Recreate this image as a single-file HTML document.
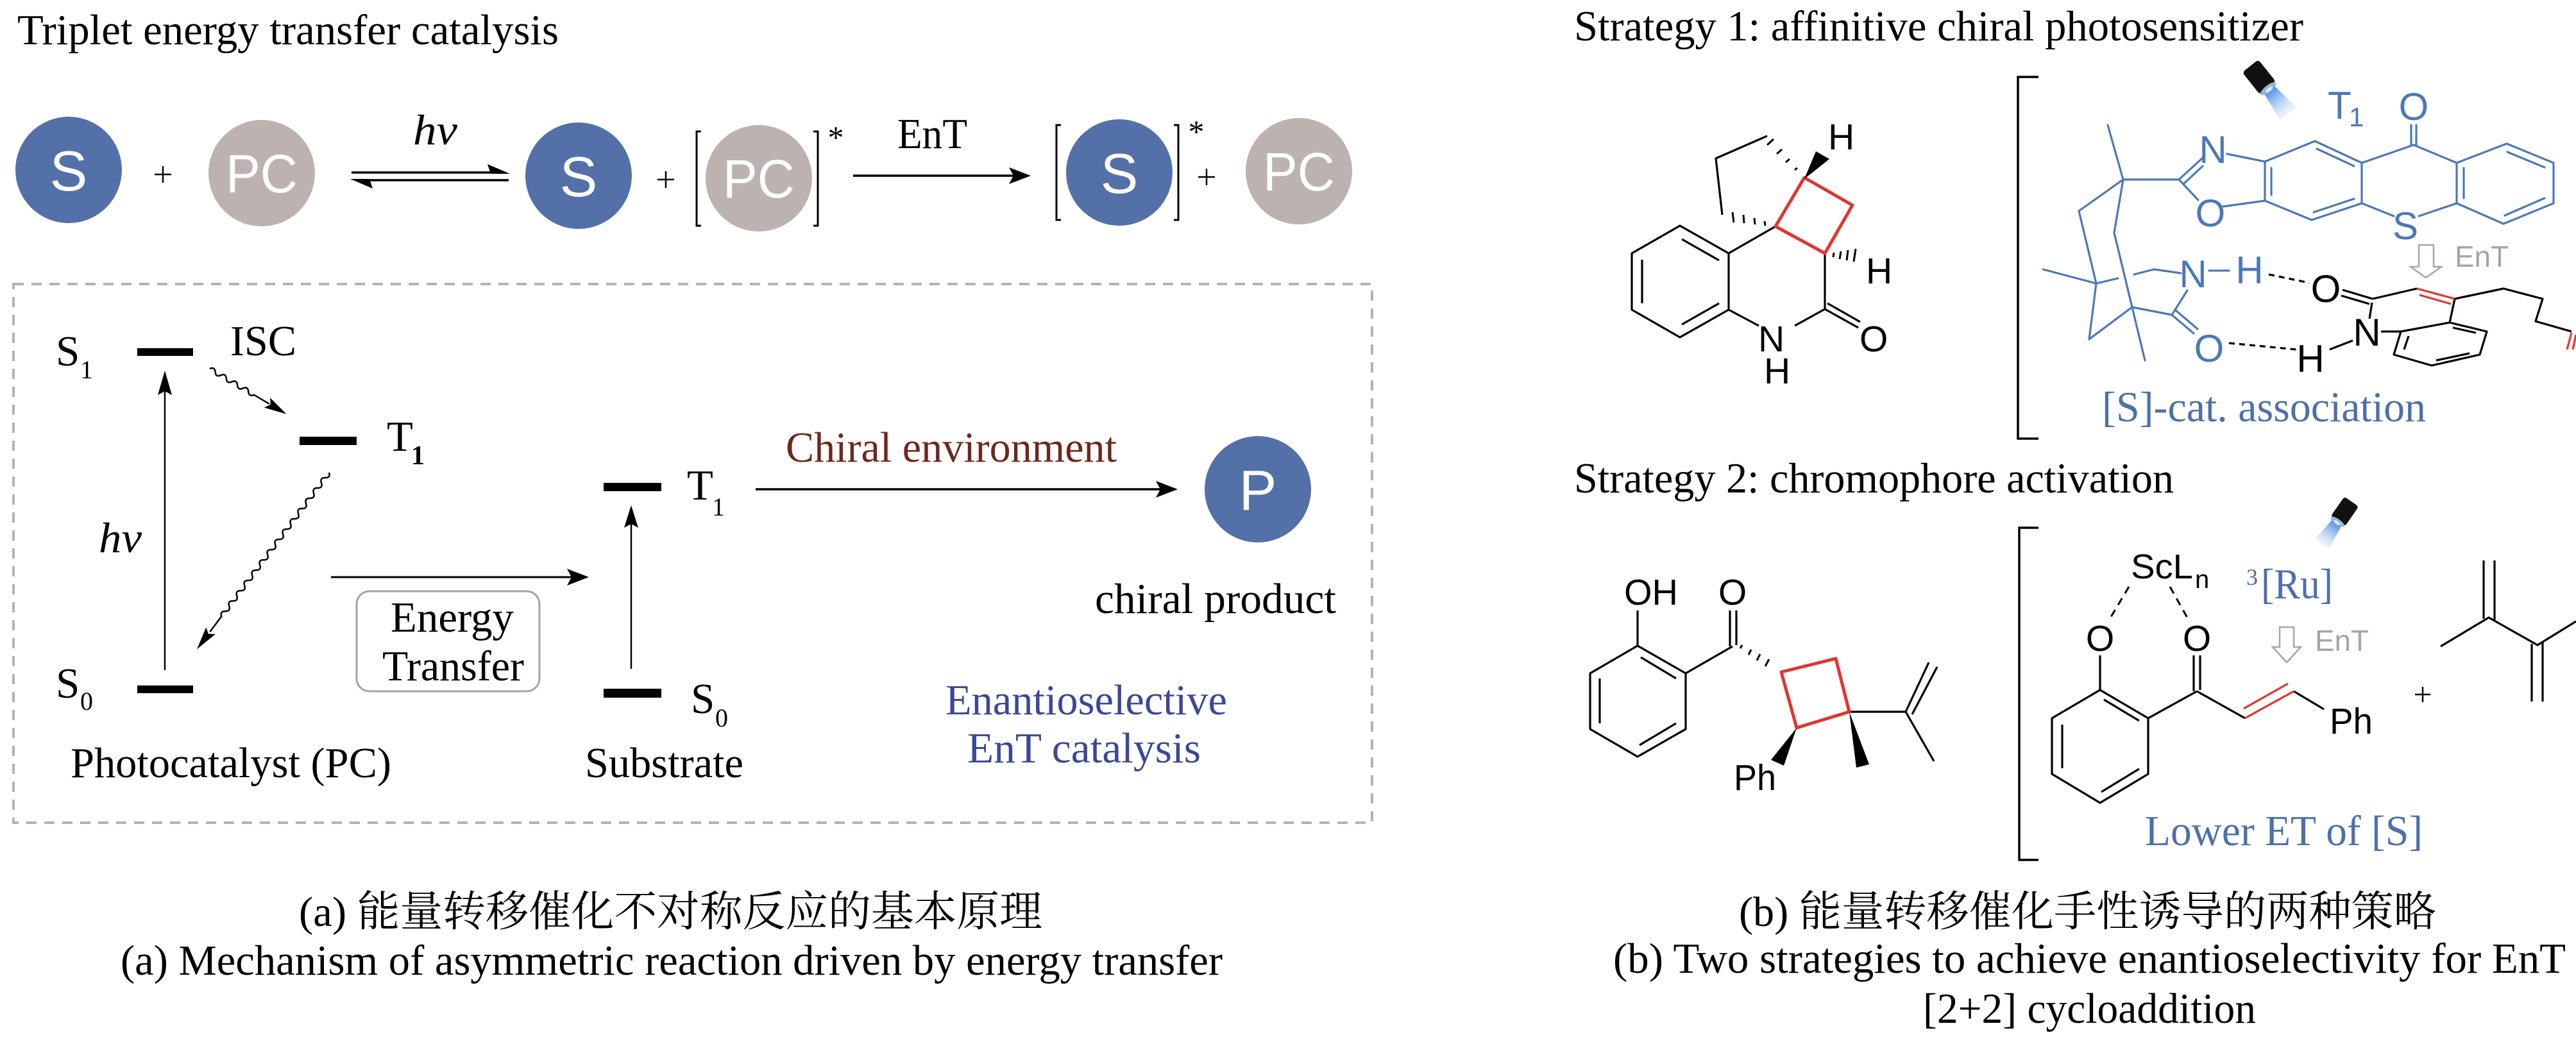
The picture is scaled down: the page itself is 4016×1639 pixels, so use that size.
<!DOCTYPE html>
<html>
<head>
<meta charset="utf-8">
<style>
html,body{margin:0;padding:0;background:#fff;}
svg{display:block;}
.serif{font-family:"Liberation Serif","Noto Serif CJK SC",serif;}
.sans{font-family:"Liberation Sans","Noto Sans CJK SC",sans-serif;}
</style>
</head>
<body>
<svg width="4016" height="1639" viewBox="0 0 4016 1639" xmlns="http://www.w3.org/2000/svg">
<defs>
  <linearGradient id="beam" x1="0" y1="0" x2="1" y2="0">
    <stop offset="0" stop-color="#3f86e0" stop-opacity="0.95"/>
    <stop offset="1" stop-color="#bcd6f4" stop-opacity="0.25"/>
  </linearGradient>
  <radialGradient id="lens" cx="0.5" cy="0.5" r="0.5">
    <stop offset="0" stop-color="#ffffff"/>
    <stop offset="0.6" stop-color="#bfe0ff"/>
    <stop offset="1" stop-color="#5d9be0"/>
  </radialGradient>
</defs>
<rect width="4016" height="1639" fill="#fff"/>

<!-- ================= LEFT PANEL ================= -->
<text class="serif" x="27" y="69" font-size="67" textLength="844" lengthAdjust="spacingAndGlyphs">Triplet energy transfer catalysis</text>

<!-- top reaction row -->
<circle cx="107" cy="265" r="83" fill="#5470a9"/>
<text class="sans" x="107" y="297" font-size="88" fill="#fff" text-anchor="middle">S</text>
<g stroke="#000" stroke-width="2.5">
  <line x1="241" y1="272" x2="267" y2="272"/><line x1="254" y1="259" x2="254" y2="285"/>
</g>
<circle cx="408" cy="270" r="83" fill="#bcb3b0"/>
<text class="sans" x="408" y="300" font-size="84" fill="#fff" text-anchor="middle" textLength="112" lengthAdjust="spacingAndGlyphs">PC</text>

<!-- equilibrium arrows -->
<g stroke="#000" stroke-width="3.5">
  <line x1="548" y1="269" x2="780" y2="269"/>
  <line x1="561" y1="281" x2="793" y2="281"/>
</g>
<polygon points="795,271 760,256 765,271" fill="#000"/>
<polygon points="546,279 581,294 576,279" fill="#000"/>
<text class="serif" x="644" y="225" font-size="67" font-style="italic" textLength="69" lengthAdjust="spacingAndGlyphs">hv</text>

<circle cx="902" cy="274" r="83" fill="#5470a9"/>
<text class="sans" x="902" y="306" font-size="88" fill="#fff" text-anchor="middle">S</text>
<g stroke="#000" stroke-width="2.5">
  <line x1="1025" y1="280" x2="1051" y2="280"/><line x1="1038" y1="267" x2="1038" y2="293"/>
</g>
<g stroke="#000" stroke-width="3" fill="none">
  <polyline points="1093,205 1086,205 1086,352 1093,352"/>
  <polyline points="1268,205 1275,205 1275,352 1268,352"/>
</g>
<circle cx="1183" cy="278" r="83" fill="#bcb3b0"/>
<text class="sans" x="1183" y="308" font-size="84" fill="#fff" text-anchor="middle" textLength="112" lengthAdjust="spacingAndGlyphs">PC</text>
<text class="serif" x="1303" y="231" font-size="50" text-anchor="middle">*</text>

<text class="serif" x="1399" y="231" font-size="67" textLength="109" lengthAdjust="spacingAndGlyphs">EnT</text>
<line x1="1330" y1="274" x2="1585" y2="274" stroke="#000" stroke-width="3.5"/>
<polygon points="1607,274 1573,261 1580,274 1573,287" fill="#000"/>

<g stroke="#000" stroke-width="3" fill="none">
  <polyline points="1654,195 1647,195 1647,343 1654,343"/>
  <polyline points="1830,195 1837,195 1837,343 1830,343"/>
</g>
<circle cx="1745" cy="269" r="83" fill="#5470a9"/>
<text class="sans" x="1745" y="301" font-size="88" fill="#fff" text-anchor="middle">S</text>
<text class="serif" x="1865" y="222" font-size="50" text-anchor="middle">*</text>
<g stroke="#000" stroke-width="2.5">
  <line x1="1868" y1="276" x2="1894" y2="276"/><line x1="1881" y1="263" x2="1881" y2="289"/>
</g>
<circle cx="2025" cy="267" r="83" fill="#bcb3b0"/>
<text class="sans" x="2025" y="297" font-size="84" fill="#fff" text-anchor="middle" textLength="112" lengthAdjust="spacingAndGlyphs">PC</text>

<!-- dashed box -->
<rect x="21" y="443" width="2118" height="840" fill="none" stroke="#b3b3b3" stroke-width="4" stroke-dasharray="16 12"/>

<!-- Jablonski: photocatalyst -->
<text class="serif" x="87" y="570" font-size="67">S</text>
<text class="serif" x="125" y="590" font-size="40">1</text>
<rect x="214" y="543" width="87" height="12" fill="#000"/>
<text class="serif" x="359" y="554" font-size="67" textLength="103" lengthAdjust="spacingAndGlyphs">ISC</text>

<g transform="translate(327,575) rotate(30.6)">
  <path d="M0,0 q5,-7 10,0 t10,0 t10,0 t10,0 t10,0 t10,0 t10,0 t10,0 L108,0" fill="none" stroke="#000" stroke-width="2.5"/>
  <polygon points="139,0 104,-9 110,0 104,9" fill="#000"/>
</g>

<rect x="467" y="681" width="89" height="13" fill="#000"/>
<text class="serif" x="603" y="703" font-size="67">T</text>
<text class="serif" x="641" y="724" font-size="42" font-weight="bold">1</text>

<g transform="translate(513,737) rotate(126.8)">
  <path d="M0,0 q5,-7 10,0 t10,0 t10,0 t10,0 t10,0 t10,0 t10,0 t10,0 t10,0 t10,0 t10,0 t10,0 t10,0 t10,0 t10,0 t10,0 t10,0 t10,0 t10,0 t10,0 t10,0 t10,0 t10,0 t10,0 t10,0 t10,0 t10,0 t10,0 L310,0" fill="none" stroke="#000" stroke-width="2.5"/>
  <polygon points="344,0 308,-9 314,0 308,9" fill="#000"/>
</g>

<line x1="257" y1="1045" x2="257" y2="605" stroke="#000" stroke-width="2.5"/>
<polygon points="257,578 246,616 257,610 268,616" fill="#000"/>
<text class="serif" x="154" y="861" font-size="67" font-style="italic" textLength="67" lengthAdjust="spacingAndGlyphs">hv</text>

<rect x="214" y="1069" width="87" height="12" fill="#000"/>
<text class="serif" x="87" y="1088" font-size="67">S</text>
<text class="serif" x="125" y="1107" font-size="40">0</text>

<!-- energy transfer -->
<line x1="516" y1="900" x2="895" y2="900" stroke="#000" stroke-width="3"/>
<polygon points="918,900 884,887 891,900 884,913" fill="#000"/>
<rect x="556" y="922" width="285" height="156" rx="20" ry="20" fill="#fff" stroke="#a3a3a3" stroke-width="3"/>
<text class="serif" x="609" y="985" font-size="67" textLength="192" lengthAdjust="spacingAndGlyphs">Energy</text>
<text class="serif" x="596" y="1061" font-size="67" textLength="221" lengthAdjust="spacingAndGlyphs">Transfer</text>

<!-- substrate levels -->
<rect x="941" y="753" width="90" height="13" fill="#000"/>
<text class="serif" x="1071" y="779" font-size="67">T</text>
<text class="serif" x="1110" y="804" font-size="40">1</text>
<line x1="984" y1="1043" x2="984" y2="812" stroke="#000" stroke-width="2.5"/>
<polygon points="984,788 973,823 984,817 995,823" fill="#000"/>
<rect x="941" y="1074" width="90" height="14" fill="#000"/>
<text class="serif" x="1077" y="1112" font-size="67">S</text>
<text class="serif" x="1115" y="1133" font-size="40">0</text>

<text class="serif" x="1225" y="720" font-size="67" fill="#6e271c" textLength="516" lengthAdjust="spacingAndGlyphs">Chiral environment</text>
<line x1="1178" y1="763" x2="1812" y2="763" stroke="#000" stroke-width="3.5"/>
<polygon points="1836,763 1802,750 1809,763 1802,776" fill="#000"/>
<circle cx="1961" cy="763" r="83" fill="#5470a9"/>
<text class="sans" x="1961" y="795" font-size="88" fill="#fff" text-anchor="middle">P</text>
<text class="serif" x="1707" y="956" font-size="67" textLength="376" lengthAdjust="spacingAndGlyphs">chiral product</text>

<text class="serif" x="110" y="1212" font-size="67" textLength="500" lengthAdjust="spacingAndGlyphs">Photocatalyst (PC)</text>
<text class="serif" x="912" y="1212" font-size="67" textLength="247" lengthAdjust="spacingAndGlyphs">Substrate</text>
<text class="serif" x="1474" y="1114" font-size="67" fill="#3a4897" textLength="439" lengthAdjust="spacingAndGlyphs">Enantioselective</text>
<text class="serif" x="1508" y="1189" font-size="67" fill="#3a4897" textLength="364" lengthAdjust="spacingAndGlyphs">EnT catalysis</text>

<!-- captions (a) -->
<text class="serif" x="466" y="1444" font-size="66" textLength="1159" lengthAdjust="spacingAndGlyphs">(a) 能量转移催化不对称反应的基本原理</text>
<text class="serif" x="188" y="1520" font-size="67" textLength="1718" lengthAdjust="spacingAndGlyphs">(a) Mechanism of asymmetric reaction driven by energy transfer</text>

<!-- ================= RIGHT PANEL ================= -->
<text class="serif" x="2454" y="63" font-size="67" textLength="1137" lengthAdjust="spacingAndGlyphs">Strategy 1: affinitive chiral photosensitizer</text>

<!-- Strategy 1 product -->
<g stroke="#000" stroke-width="3.2" fill="none" stroke-linejoin="round">
  <polygon points="2619,352 2695,395 2695,483 2619,526 2544,483 2544,395"/>
  <line x1="2622" y1="373" x2="2680" y2="406"/>
  <line x1="2560" y1="405" x2="2560" y2="473"/>
  <line x1="2622" y1="506" x2="2680" y2="473"/>
  <line x1="2695" y1="395" x2="2768" y2="353"/>
  <polyline points="2685,335 2675,247 2755,212"/>
  <line x1="2845" y1="395" x2="2845" y2="482"/>
  <line x1="2845" y1="482" x2="2897" y2="511"/>
  <line x1="2849" y1="473" x2="2900" y2="502"/>
  <line x1="2695" y1="483" x2="2742" y2="508"/>
  <line x1="2845" y1="482" x2="2798" y2="508"/>
</g>
<g stroke="#000" stroke-width="3">
  <line x1="2701" y1="331" x2="2703" y2="347"/>
  <line x1="2718" y1="335" x2="2719" y2="348"/>
  <line x1="2735" y1="340" x2="2736" y2="350"/>
  <line x1="2751" y1="345" x2="2752" y2="352"/>
  <line x1="2755" y1="226" x2="2765" y2="217"/>
  <line x1="2770" y1="240" x2="2778" y2="233"/>
  <line x1="2784" y1="253" x2="2790" y2="248"/>
  <line x1="2798" y1="265" x2="2802" y2="262"/>
  <line x1="2859" y1="394" x2="2858" y2="401"/>
  <line x1="2870" y1="392" x2="2868" y2="404"/>
  <line x1="2881" y1="390" x2="2879" y2="406"/>
  <line x1="2893" y1="388" x2="2890" y2="408"/>
</g>
<polygon points="2768,353 2813,277 2888,320 2845,395" fill="none" stroke="#e3342f" stroke-width="5" stroke-linejoin="round"/>
<polygon points="2813,279 2831,236 2852,248" fill="#000"/>
<g class="sans" font-size="57" fill="#000">
  <text x="2850" y="233">H</text>
  <text x="2909" y="442">H</text>
  <text x="2899" y="548">O</text>
  <text x="2741" y="548">N</text>
  <text x="2750" y="598">H</text>
</g>

<!-- Strategy 1 bracket -->
<polyline points="3178,120 3146,120 3146,684 3178,684" fill="none" stroke="#000" stroke-width="3.5"/>

<!-- flashlight 1 -->
<g transform="translate(3525,124) rotate(51.5)">
  <polygon points="20,-10 68,-16 68,16 20,10" fill="url(#beam)"/>
  <rect x="-27" y="-16" width="44" height="32" rx="5" fill="#111"/>
  <ellipse cx="18" cy="0" rx="5" ry="15" fill="#9fb5cf"/>
  <ellipse cx="20" cy="0" rx="4" ry="10" fill="url(#lens)"/>
</g>

<!-- catalyst (blue) -->
<g stroke="#4b78b8" stroke-width="3.2" fill="none" stroke-linejoin="round" stroke-linecap="round">
  <line x1="3286" y1="195" x2="3310" y2="280"/>
  <line x1="3310" y1="280" x2="3397" y2="280"/>
  <line x1="3397" y1="280" x2="3433" y2="247"/>
  <line x1="3405" y1="286" x2="3434" y2="259"/>
  <line x1="3472" y1="240" x2="3531" y2="252"/>
  <line x1="3397" y1="280" x2="3427" y2="312"/>
  <line x1="3466" y1="322" x2="3531" y2="313"/>
  <polygon points="3531,252 3609,220 3682,254 3682,317 3604,343 3531,313"/>
  <line x1="3541" y1="262" x2="3541" y2="304"/>
  <line x1="3612" y1="232" x2="3670" y2="259"/>
  <line x1="3607" y1="331" x2="3670" y2="310"/>
  <polyline points="3682,254 3763,226 3830,254"/>
  <line x1="3682" y1="317" x2="3732" y2="337"/>
  <line x1="3830" y1="317" x2="3771" y2="337"/>
  <line x1="3759" y1="226" x2="3759" y2="195"/>
  <line x1="3767" y1="226" x2="3767" y2="195"/>
  <polygon points="3830,254 3908,224 3981,254 3981,317 3903,349 3830,317"/>
  <line x1="3841" y1="262" x2="3841" y2="309"/>
  <line x1="3909" y1="237" x2="3967" y2="261"/>
  <line x1="3967" y1="309" x2="3905" y2="336"/>
  <!-- skeleton -->
  <line x1="3310" y1="280" x2="3241" y2="329"/>
  <line x1="3241" y1="329" x2="3268" y2="442"/>
  <line x1="3310" y1="280" x2="3296" y2="363"/>
  <line x1="3296" y1="363" x2="3344" y2="562"/>
  <line x1="3185" y1="420" x2="3268" y2="442"/>
  <line x1="3268" y1="442" x2="3257" y2="529"/>
  <line x1="3257" y1="529" x2="3324" y2="479"/>
  <line x1="3268" y1="442" x2="3302" y2="434"/>
  <polyline points="3327,428 3358,420 3400,426"/>
  <line x1="3444" y1="422" x2="3475" y2="422"/>
  <line x1="3410" y1="453" x2="3386" y2="491"/>
  <line x1="3324" y1="479" x2="3386" y2="491"/>
  <line x1="3386" y1="491" x2="3420" y2="520"/>
  <line x1="3392" y1="484" x2="3426" y2="513"/>
</g>
<g class="sans" font-size="60" fill="#4b78b8" text-anchor="middle">
  <text x="3763" y="187">O</text>
  <text x="3450" y="254">N</text>
  <text x="3446" y="353">O</text>
  <text x="3750" y="373">S</text>
  <text x="3419" y="448">N</text>
  <text x="3507" y="442">H</text>
  <text x="3444" y="564">O</text>
</g>
<text class="sans" x="3629" y="185" font-size="60" fill="#4b78b8">T</text>
<text class="sans" x="3662" y="197" font-size="42" fill="#4b78b8">1</text>

<!-- H-bonds and substrate (black) -->
<g stroke="#000" stroke-width="3.2" stroke-dasharray="9 7">
  <line x1="3537" y1="428" x2="3600" y2="441"/>
  <line x1="3475" y1="535" x2="3580" y2="545"/>
</g>
<g stroke="#000" stroke-width="3.2" fill="none" stroke-linejoin="round">
  <line x1="3632" y1="545" x2="3668" y2="531"/>
  <line x1="3652" y1="452" x2="3699" y2="466"/>
  <line x1="3650" y1="461" x2="3694" y2="474"/>
  <line x1="3699" y1="466" x2="3768" y2="450"/>
  <polyline points="3827,466 3903,450 3964,466 3953,501 4009,517"/>
  <line x1="3827" y1="466" x2="3819" y2="503"/>
  <polygon points="3819,503 3877,517 3866,553 3791,570 3732,553 3743,517"/>
  <line x1="3824" y1="511" x2="3860" y2="519"/>
  <line x1="3850" y1="551" x2="3798" y2="562"/>
  <line x1="3748" y1="545" x2="3755" y2="524"/>
  <line x1="3698" y1="472" x2="3694" y2="497"/>
  <line x1="3712" y1="517" x2="3743" y2="517"/>
</g>
<g stroke="#e3342f" stroke-width="3.2">
  <line x1="3768" y1="450" x2="3827" y2="466"/>
  <line x1="3772" y1="460" x2="3821" y2="474"/>
  <line x1="4009" y1="519" x2="4002" y2="545"/>
  <line x1="4016" y1="522" x2="4011" y2="545"/>
</g>
<g class="sans" font-size="60" fill="#000" text-anchor="middle">
  <text x="3626" y="471">O</text>
  <text x="3690" y="539">N</text>
  <text x="3602" y="580">H</text>
</g>
<!-- EnT hollow arrow 1 -->
<polygon points="3771,382 3794,382 3794,416 3806,416 3782,433 3758,416 3771,416" fill="#fff" stroke="#a9a4a2" stroke-width="2.5"/>
<text class="sans" x="3827" y="416" font-size="46" fill="#a9a4a2" textLength="84" lengthAdjust="spacingAndGlyphs">EnT</text>
<text class="serif" x="3277" y="657" font-size="67" fill="#4c6fae" textLength="505" lengthAdjust="spacingAndGlyphs">[S]-cat. association</text>

<!-- Strategy 2 -->
<text class="serif" x="2454" y="768" font-size="67" textLength="935" lengthAdjust="spacingAndGlyphs">Strategy 2: chromophore activation</text>

<g stroke="#000" stroke-width="3.2" fill="none" stroke-linejoin="round">
  <polygon points="2553,1007 2628,1050 2628,1137 2553,1180 2479,1137 2479,1050"/>
  <line x1="2558" y1="1025" x2="2613" y2="1058"/>
  <line x1="2494" y1="1058" x2="2494" y2="1128"/>
  <line x1="2556" y1="1162" x2="2613" y2="1128"/>
  <line x1="2553" y1="952" x2="2553" y2="1007"/>
  <line x1="2628" y1="1050" x2="2701" y2="1008"/>
  <line x1="2697" y1="952" x2="2697" y2="1008"/>
  <line x1="2707" y1="952" x2="2707" y2="1006"/>
  <line x1="2883" y1="1110" x2="2971" y2="1110"/>
  <line x1="2971" y1="1110" x2="3007" y2="1033"/>
  <line x1="2981" y1="1114" x2="3020" y2="1040"/>
  <line x1="2971" y1="1110" x2="3015" y2="1187"/>
</g>
<g stroke="#000" stroke-width="3">
  <line x1="2713" y1="1011" x2="2716" y2="1006"/>
  <line x1="2726" y1="1021" x2="2730" y2="1013"/>
  <line x1="2739" y1="1030" x2="2744" y2="1020"/>
  <line x1="2752" y1="1039" x2="2758" y2="1028"/>
</g>
<polygon points="2777,1048 2862,1027 2883,1110 2801,1135" fill="none" stroke="#e3342f" stroke-width="5" stroke-linejoin="round"/>
<polygon points="2801,1135 2761,1185 2781,1194" fill="#000"/>
<polygon points="2883,1110 2894,1197 2914,1192" fill="#000"/>
<g class="sans" font-size="57" fill="#000">
  <text x="2532" y="943" textLength="84" lengthAdjust="spacingAndGlyphs">OH</text>
  <text x="2701" y="943" text-anchor="middle">O</text>
  <text x="2703" y="1232" textLength="66" lengthAdjust="spacingAndGlyphs">Ph</text>
</g>

<polyline points="3178,823 3148,823 3148,1341 3178,1341" fill="none" stroke="#000" stroke-width="3.5"/>

<!-- flashlight 2 -->
<g transform="translate(3653,801) rotate(124.8) scale(0.85)">
  <polygon points="20,-10 68,-16 68,16 20,10" fill="url(#beam)"/>
  <rect x="-27" y="-16" width="44" height="32" rx="5" fill="#111"/>
  <ellipse cx="18" cy="0" rx="5" ry="15" fill="#9fb5cf"/>
  <ellipse cx="20" cy="0" rx="4" ry="10" fill="url(#lens)"/>
</g>

<g class="sans" fill="#000">
  <text x="3322" y="902" font-size="54" textLength="97" lengthAdjust="spacingAndGlyphs">ScL</text>
  <text x="3422" y="917" font-size="40">n</text>
  <text x="3274" y="1015" font-size="57" text-anchor="middle">O</text>
  <text x="3425" y="1015" font-size="57" text-anchor="middle">O</text>
  <text x="3632" y="1144" font-size="57" textLength="67" lengthAdjust="spacingAndGlyphs">Ph</text>
</g>
<g stroke="#000" stroke-width="3" stroke-dasharray="12 9">
  <line x1="3319" y1="915" x2="3288" y2="967"/>
  <line x1="3383" y1="915" x2="3411" y2="965"/>
</g>
<g stroke="#000" stroke-width="3.2" fill="none" stroke-linejoin="round">
  <line x1="3274" y1="1022" x2="3274" y2="1076"/>
  <polygon points="3274,1076 3349,1120 3349,1207 3274,1252 3199,1120 3199,1120" style="display:none"/>
  <polygon points="3274,1076 3349,1120 3349,1207 3274,1252 3199,1207 3199,1120"/>
  <line x1="3280" y1="1091" x2="3335" y2="1124"/>
  <line x1="3215" y1="1130" x2="3215" y2="1198"/>
  <line x1="3276" y1="1235" x2="3335" y2="1199"/>
  <line x1="3349" y1="1120" x2="3425" y2="1078"/>
  <line x1="3420" y1="1022" x2="3420" y2="1078"/>
  <line x1="3430" y1="1022" x2="3430" y2="1076"/>
  <line x1="3425" y1="1078" x2="3500" y2="1120"/>
  <line x1="3576" y1="1078" x2="3623" y2="1106"/>
</g>
<g stroke="#e3342f" stroke-width="3.2">
  <line x1="3500" y1="1120" x2="3576" y2="1078"/>
  <line x1="3498" y1="1105" x2="3567" y2="1066"/>
</g>
<text class="serif" x="3502" y="912" font-size="36" fill="#4c6fae">3</text>
<text class="serif" x="3525" y="933" font-size="67" fill="#4c6fae" textLength="112" lengthAdjust="spacingAndGlyphs">[Ru]</text>
<polygon points="3554,978 3576,978 3576,1009 3587,1009 3565,1033 3543,1009 3554,1009" fill="#fff" stroke="#a9a4a2" stroke-width="2.5"/>
<text class="sans" x="3609" y="1015" font-size="46" fill="#a9a4a2" textLength="84" lengthAdjust="spacingAndGlyphs">EnT</text>
<text class="serif" x="3344" y="1318" font-size="67" fill="#4c6fae" textLength="433" lengthAdjust="spacingAndGlyphs">Lower ET of [S]</text>

<g stroke="#000" stroke-width="2.5">
  <line x1="3765" y1="1083" x2="3789" y2="1083"/><line x1="3777" y1="1071" x2="3777" y2="1095"/>
</g>
<g stroke="#000" stroke-width="3.2" fill="none" stroke-linejoin="round">
  <polyline points="3805,1008 3880,963 3956,1006 4016,969"/>
  <line x1="3872" y1="874" x2="3872" y2="965"/>
  <line x1="3889" y1="874" x2="3889" y2="968"/>
  <line x1="3947" y1="1004" x2="3947" y2="1094"/>
  <line x1="3964" y1="1001" x2="3964" y2="1094"/>
</g>

<!-- captions (b) -->
<text class="serif" x="2711" y="1444" font-size="66" textLength="1087" lengthAdjust="spacingAndGlyphs">(b) 能量转移催化手性诱导的两种策略</text>
<text class="serif" x="2515" y="1517" font-size="67" textLength="1485" lengthAdjust="spacingAndGlyphs">(b) Two strategies to achieve enantioselectivity for EnT</text>
<text class="serif" x="2998" y="1595" font-size="67" textLength="519" lengthAdjust="spacingAndGlyphs">[2+2] cycloaddition</text>
</svg>
</body>
</html>
